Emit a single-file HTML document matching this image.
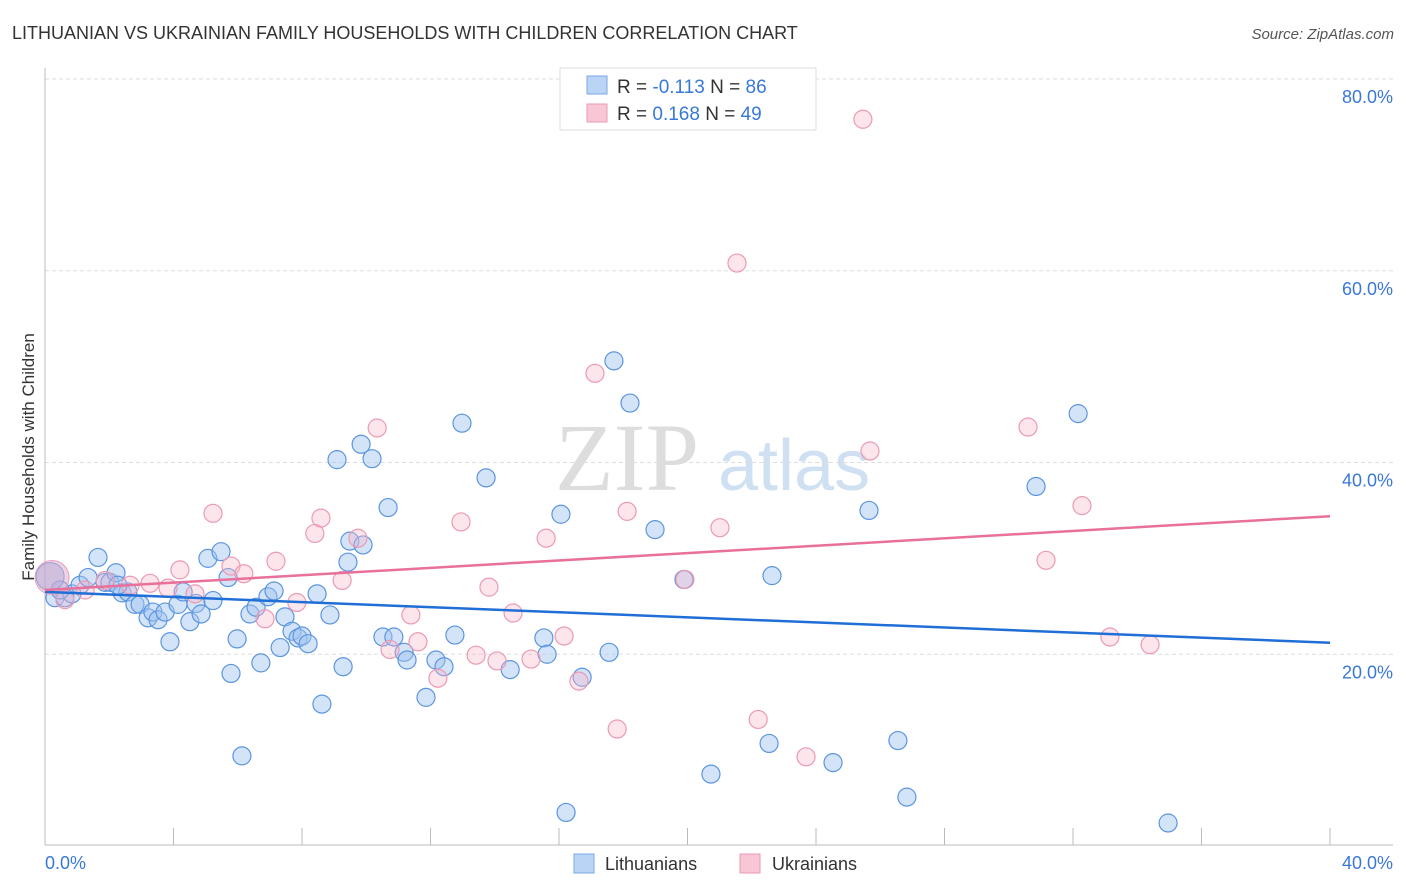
<!DOCTYPE html>
<html><head><meta charset="utf-8"><style>
body{margin:0;background:#fff;font-family:"Liberation Sans",sans-serif;}
svg{display:block}
</style></head><body>
<svg id="chart" width="1406" height="892">
<text x="12" y="39" font-size="18" fill="#333">LITHUANIAN VS UKRAINIAN FAMILY HOUSEHOLDS WITH CHILDREN CORRELATION CHART</text>
<text x="1394" y="39" font-size="15" fill="#555" font-style="italic" text-anchor="end">Source: ZipAtlas.com</text>
<g><text x="555" y="490" font-size="96" fill="#ddd" font-family="Liberation Serif,serif">ZIP</text><text x="718" y="490" font-size="72" fill="#cfe0f2">atlas</text></g>
<g id="grid"></g>
<line x1="45" y1="68" x2="45" y2="845" stroke="#bbb"/>
<line x1="45" y1="845" x2="1393" y2="845" stroke="#bbb"/>
<text transform="translate(34,457) rotate(-90)" font-size="17" fill="#333" text-anchor="middle">Family Households with Children</text>
<text x="45" y="869" font-size="18" fill="#3a78d8">0.0%</text>
<text x="1393" y="869" font-size="18" fill="#3a78d8" text-anchor="end">40.0%</text>
<g id="points"></g>
<g id="lines"></g>
<g>
<rect x="560" y="68" width="256" height="62" fill="#fff" stroke="#ddd"/>
<rect x="587" y="76" width="20" height="18" fill="#b9d4f5" stroke="#7aa9e6"/>
<rect x="587" y="104" width="20" height="18" fill="#f9c6d5" stroke="#eb9ab4"/>
<text x="617" y="93" font-size="19" fill="#333">R = <tspan fill="#3a78d8">-0.113</tspan>   N = <tspan fill="#3a78d8">86</tspan></text>
<text x="617" y="120" font-size="19" fill="#333">R =  <tspan fill="#3a78d8">0.168</tspan>   N = <tspan fill="#3a78d8">49</tspan></text>
</g>
<g>
<rect x="574" y="854" width="20" height="19" fill="#b9d4f5" stroke="#7aa9e6"/>
<text x="605" y="870" font-size="18" fill="#333">Lithuanians</text>
<rect x="740" y="854" width="20" height="19" fill="#f9c6d5" stroke="#eb9ab4"/>
<text x="772" y="870" font-size="18" fill="#333">Ukrainians</text>
</g>
</svg>
<script>
const yTicks=[20,40,60,80];
const xTicks=[4,8,12,16,20,24,28,32,36,40];
const blueX=[0.31,0.62,0.84,1.09,1.34,1.65,1.87,2.02,2.21,2.40,2.58,2.80,2.96,3.21,3.36,3.52,3.74,3.89,4.14,4.30,4.51,4.70,4.86,5.07,5.23,5.48,5.70,5.98,5.79,6.13,6.38,6.57,6.72,6.94,7.13,7.32,7.47,7.69,7.88,8.00,8.19,8.47,8.62,8.87,9.09,9.28,9.43,9.49,9.84,9.90,10.18,10.52,10.68,10.86,11.18,11.27,11.86,12.17,12.42,12.76,12.98,13.73,14.48,15.53,15.63,16.06,16.22,16.72,17.56,17.71,18.21,18.99,19.89,20.73,22.54,22.63,24.53,25.65,26.55,26.83,30.85,32.16,34.96,0.47,2.27];
const blueY=[25.9,25.9,26.3,27.2,28.0,30.1,27.5,27.5,28.5,26.4,26.5,25.2,25.2,23.8,24.4,23.6,24.4,21.3,25.2,26.5,23.4,25.3,24.2,30.0,25.6,30.7,28.0,21.6,18.0,9.4,24.2,24.9,19.1,26.0,26.6,20.7,23.9,22.4,21.7,21.9,21.1,26.3,14.8,24.1,40.3,18.7,29.6,31.8,41.9,31.4,40.4,21.8,35.3,21.8,20.2,19.4,15.5,19.4,18.7,22.0,44.1,38.4,18.4,21.7,20.0,34.6,3.5,17.6,20.2,50.6,46.2,33.0,27.8,7.5,10.7,28.2,8.7,35.0,11.0,5.1,37.5,45.1,2.4,26.7,27.2];
const pinkX=[0.62,1.25,1.87,2.65,3.27,3.83,4.20,4.67,5.23,5.79,6.19,6.85,7.19,7.84,8.40,8.59,9.25,9.74,10.34,10.74,11.39,11.61,12.23,12.95,13.42,13.82,14.07,14.57,15.13,15.60,16.16,16.62,17.12,17.81,18.12,19.92,21.01,21.54,22.20,23.69,25.46,25.68,30.60,31.16,32.28,33.15,34.40];
const pinkY=[25.7,26.7,27.7,27.2,27.4,26.9,28.8,26.3,34.7,29.2,28.4,23.7,29.7,25.4,32.6,34.2,27.7,32.1,43.6,20.5,24.1,21.3,17.5,33.8,19.9,27.0,19.3,24.3,19.5,32.1,21.9,17.2,49.3,12.2,34.9,27.8,33.2,60.8,13.2,9.3,75.8,41.2,43.7,29.8,35.5,21.8,21.0];
const blueLine=[26.5,21.2];
const pinkLine=[26.7,34.4];
const NS="http://www.w3.org/2000/svg";
const sx=v=>45+v/40*1285;
const sy=v=>846-v/20*191.75;
function mk(tag,attrs,parent){const e=document.createElementNS(NS,tag);for(const k in attrs)e.setAttribute(k,attrs[k]);parent.appendChild(e);return e;}
const grid=document.getElementById('grid');
yTicks.forEach(t=>{
 const l=mk('line',{x1:45,x2:1393,y1:sy(t),y2:sy(t),stroke:'#ddd','stroke-dasharray':'4,3'},grid);
 
 
 const tx=mk('text',{x:1393,y:sy(t)+24,'font-size':18,fill:'#3a78d8','text-anchor':'end'},grid);
 tx.textContent=t.toFixed(1)+'%';
 
 
});
xTicks.forEach(t=>{
 const l=mk('line',{x1:sx(t),x2:sx(t),y1:828,y2:845,stroke:'#bbb'},grid);
 
 
});
const pts=document.getElementById('points');
blueX.forEach((x,i)=>{
 const c=mk('circle',{cx:sx(x),cy:sy(blueY[i]),r:9,fill:'rgba(160,196,240,0.45)',stroke:'#5b95e0','stroke-width':1.2},pts);
 
 
});
pinkX.forEach((x,i)=>{
 const c=mk('circle',{cx:sx(x),cy:sy(pinkY[i]),r:9,fill:'rgba(248,180,200,0.35)',stroke:'#eb9ab4','stroke-width':1.2},pts);
 
 
});
const bigP=mk('circle',{cx:sx(0.22),cy:sy(28.0),r:17,fill:'rgba(220,170,200,0.5)',stroke:'#e8a0bc'},pts);


const bigB=mk('circle',{cx:sx(0.16),cy:sy(28.1),r:14,fill:'rgba(180,170,215,0.5)',stroke:'#9aa0d8'},pts);


const lg=document.getElementById('lines');
const bl=mk('line',{x1:sx(0),y1:sy(blueLine[0]),x2:sx(40),y2:sy(blueLine[1]),stroke:'#1f6fd6','stroke-width':2.5},lg);


const pl=mk('line',{x1:sx(0),y1:sy(pinkLine[0]),x2:sx(40),y2:sy(pinkLine[1]),stroke:'#e8709a','stroke-width':2.5},lg);


</script>
</body></html>
